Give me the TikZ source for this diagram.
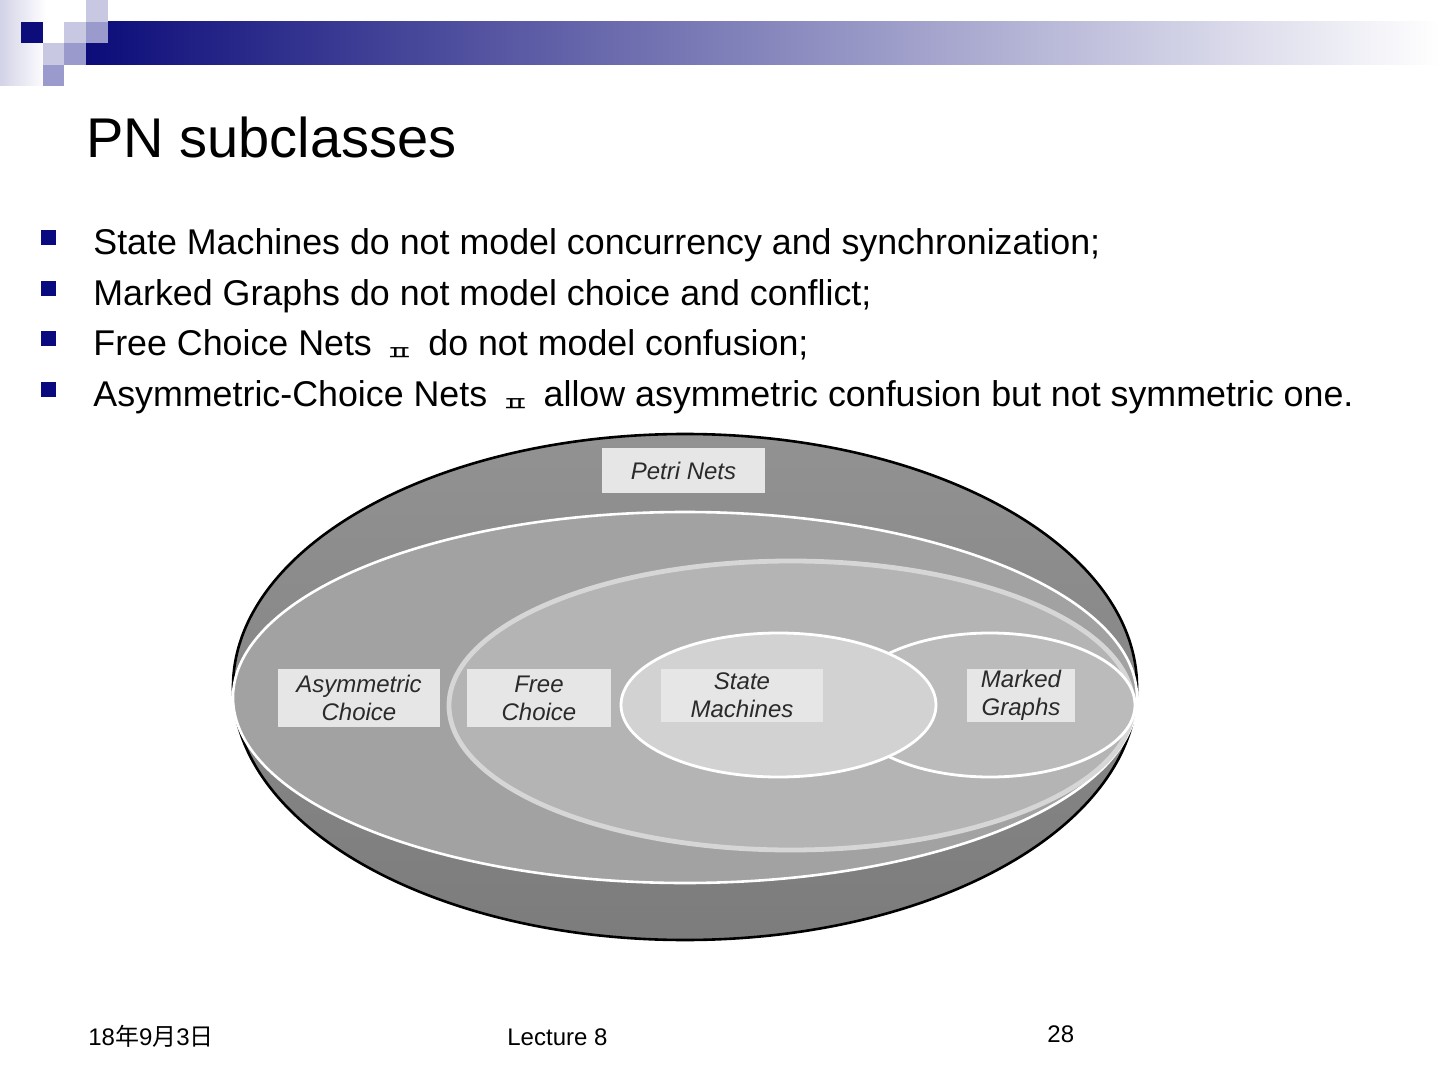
\documentclass[tikz,border=0pt]{standalone}
\usepackage{graphicx}
\usepackage{fontspec}
\setmainfont{Liberation Sans}
\setsansfont{Liberation Sans}
\newfontfamily\cjk{Noto Sans CJK SC}
\newfontfamily\kr{Noto Sans CJK KR}
\definecolor{navy}{HTML}{0C0C7A}
\definecolor{sqlight}{HTML}{C8C8E2}
\definecolor{sqmid}{HTML}{9A9ACC}
\definecolor{bandl}{HTML}{D2D2E8}
\definecolor{bul}{HTML}{0A0A80}
\definecolor{pntop}{HTML}{929292}
\definecolor{pnbot}{HTML}{7C7C7C}
\definecolor{acfill}{HTML}{A2A2A2}
\definecolor{fcfill}{HTML}{B4B4B4}
\definecolor{fcline}{HTML}{D6D6D6}
\definecolor{mgfill}{HTML}{BBBBBB}
\definecolor{smfill}{HTML}{D2D2D2}
\definecolor{boxfill}{HTML}{E6E6E6}
\definecolor{lbltext}{HTML}{2A2A2A}
\newcommand{\jamo}{\hspace{2pt}\raisebox{-2.4pt}{\scalebox{1}[0.68]{\kr\fontsize{15.5}{15.5}\selectfont ㅍ}}\hspace{2pt}}
\tikzset{
  bullettext/.style={anchor=base west, inner sep=0pt, font=\fontsize{17.9}{20}\selectfont},
  bulletsq/.style={fill=bul, draw=none, minimum size=7.5pt, inner sep=0pt},
  lbl/.style={fill=boxfill, draw=none, inner sep=0pt, align=center, text=lbltext,
              font=\fontsize{12}{14}\selectfont\itshape},
  foot/.style={anchor=base west, inner sep=0pt, font=\fontsize{12}{14}\selectfont},
}
\begin{document}
\begin{tikzpicture}[x=0.5pt,y=-0.5pt]
\useasboundingbox (0,0) rectangle (1440,1080);
\fill[white] (0,0) rectangle (1440,1080);
% header
\shade[left color=bandl, right color=white] (0,0) rectangle (46,86);
\shade[left color=navy, right color=white] (86,22) rectangle (1440,65);
\fill[navy] (21,22) rectangle (43,43);
\fill[sqlight] (43,43) rectangle (64,65);
\fill[sqmid] (43,65) rectangle (64,86);
\fill[sqlight] (64,22) rectangle (86,43);
\fill[sqmid] (64,43) rectangle (86,65);
\fill[sqlight] (86,0) rectangle (108,22);
\fill[sqmid] (86,22) rectangle (108,43);
% title
\node[anchor=base west, inner sep=0pt, font=\fontsize{28}{30}\selectfont] (title) at (86,158) {PN subclasses};
% bullets
\node[bulletsq] (b1) at (48.5,237.5) {};
\node[bulletsq] (b2) at (48.5,288.5) {};
\node[bulletsq] (b3) at (48.5,338.5) {};
\node[bulletsq] (b4) at (48.5,389.5) {};
\node[bullettext] (t1) at (93,255) {State Machines do not model concurrency and synchronization;};
\node[bullettext] (t2) at (93,306) {Marked Graphs do not model choice and conflict;};
\node[bullettext] (t3) at (93,356) {Free Choice Nets \jamo{} do not model confusion;};
\node[bullettext] (t4) at (93,407) {Asymmetric-Choice Nets \jamo{} allow asymmetric confusion but not symmetric one.};
% ellipses
\shade[top color=pntop, bottom color=pnbot] (685,687) ellipse [x radius=452, y radius=253];
\draw[black, line width=1.3pt] (685,687) ellipse [x radius=452, y radius=253];
\draw[white, line width=1.3pt, fill=acfill] (685,697.5) ellipse [x radius=452, y radius=185.5];
\draw[fcline, line width=2.4pt, fill=fcfill] (791,705.5) ellipse [x radius=342, y radius=144.5];
\draw[white, line width=1.4pt, fill=mgfill] (990,705) ellipse [x radius=145, y radius=72];
\draw[white, line width=1.4pt, fill=smfill] (778.5,705) ellipse [x radius=157.5, y radius=72];
% labels
\node[lbl, minimum width=81.5pt, minimum height=22.5pt] (pn) at (683.5,470.5) {Petri Nets};
\node[lbl, minimum width=81pt, minimum height=29pt] (ac) at (359,698) {Asymmetric\\Choice};
\node[lbl, minimum width=72pt, minimum height=29pt] (fc) at (539,698) {Free\\Choice};
\node[lbl, minimum width=81pt, minimum height=26.5pt] (sm) at (742,695.5) {State\\Machines};
\node[lbl, minimum width=54pt, minimum height=26.5pt] (mg) at (1021,695.5) {Marked\\Graphs};
% footer
\node[foot] (date) at (88,1045) {18{\cjk 年}9{\cjk 月}3{\cjk 日}};
\node[foot] (lec) at (507,1045) {Lecture 8};
\node[foot] (num) at (1047,1042) {28};
\end{tikzpicture}
\end{document}
